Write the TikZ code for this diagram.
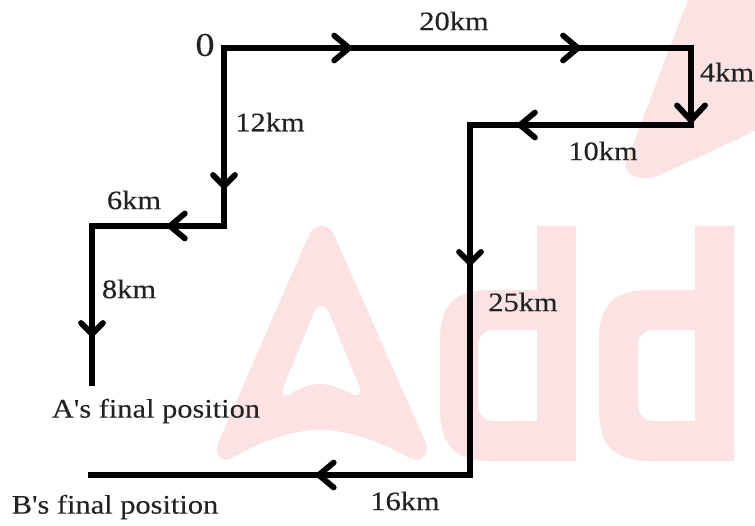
\documentclass[tikz,border=0pt]{standalone}
\usepackage{fontspec}
\newfontfamily\labfont[FakeStretch=1.14,FakeBold=0.25]{Liberation Serif}
\usetikzlibrary{decorations.markings}
\definecolor{wm}{HTML}{FBE3E4}
\definecolor{ink}{HTML}{222222}
\tikzset{
  x=0.75pt,y=-0.75pt,
  lab/.style={text=ink,font=\labfont\fontsize{20}{22}\selectfont,inner sep=0pt},
  wmark/.style={fill=wm,draw=none,even odd rule},
  route/.style={line width=3.8pt,line cap=rect,draw=black},
  chevh/.style={postaction={decorate,decoration={markings,mark=at position #1 with {
    \draw[line width=4.3pt,line cap=round,line join=round,black] (-15,-12.5) -- (0,0) -- (-15,12.5);}}}},
  chevv/.style={postaction={decorate,decoration={markings,mark=at position #1 with {
    \draw[line width=4.3pt,line cap=round,line join=round,black] (-11,-11) -- (0,0) -- (-11,11);}}}},
  chevl/.style={postaction={decorate,decoration={markings,mark=at position #1 with {
    \draw[line width=4.3pt,line cap=round,line join=round,black] (-15,-14) -- (0,0) -- (-15,14);}}}},
}
\begin{document}
\begin{tikzpicture}
\useasboundingbox (0,0) rectangle (755,525);
% watermark
\fill[wmark] (308,237) .. controls (314,222) and (329,222) .. (335,237) -- (426,443)
  .. controls (430,454) and (420,464) .. (410,458) .. controls (380,442) and (350,430) .. (320,430)
  .. controls (290,430) and (260,442) .. (232,458) .. controls (220,464) and (213,453) .. (219,441) -- cycle
  (315,310) .. controls (318,305) and (325,305) .. (328,310) -- (360,388)
  .. controls (361,393) and (358,397) .. (354,395) .. controls (342,389) and (331,384) .. (320,384)
  .. controls (309,384) and (298,389) .. (288,395) .. controls (284,397) and (281,393) .. (283,388) -- cycle;
\fill[wmark] (537,226) -- (576,226) -- (576,461) -- (490,461) .. controls (455,461) and (440,445) .. (440,410)
  -- (440,340) .. controls (440,305) and (455,290) .. (490,290) -- (537,290) -- cycle
  (537,330) -- (495,330) .. controls (484,330) and (478,336) .. (478,347) -- (478,404)
  .. controls (478,415) and (484,421) .. (495,421) -- (537,421) -- cycle;
\fill[wmark] (695,226) -- (734,226) -- (734,461) -- (649,461) .. controls (614,461) and (599,445) .. (599,410)
  -- (599,340) .. controls (599,305) and (614,290) .. (649,290) -- (695,290) -- cycle
  (695,330) -- (655,330) .. controls (644,330) and (638,336) .. (638,347) -- (638,404)
  .. controls (638,415) and (644,421) .. (655,421) -- (695,421) -- cycle;
\fill[wmark] (688,0) -- (755,0) -- (755,131) -- (658,176) .. controls (642,182) and (620,176) .. (627,160) -- cycle;
% route points
\coordinate (o) at (224,48);
\coordinate (a1) at (224,226);
\coordinate (a2) at (92,226);
\coordinate (a3) at (92,386);
\coordinate (b1) at (691,48);
\coordinate (b2) at (691,125);
\coordinate (b3) at (470,125);
\coordinate (b4) at (470,475);
\coordinate (b5) at (88,475);
% routes
\draw[route,line cap=butt,chevv=0.775] (o) -- (a1);
\draw[route,chevh=0.41] (a1) -- (a2);
\draw[route,line cap=butt,chevv=0.675] (a2) -- (a3);
\draw[route,chevh=0.268,chevh=0.758] (o) -- (b1);
\draw[route,chevl=0.94] (b1) -- (b2);
\draw[route,chevh=0.774] (b2) -- (b3);
\draw[route,chevv=0.394] (b3) -- (b4);
\draw[route,line cap=butt,chevh=0.396] (b4) -- (b5);
% labels
\node[lab,font=\labfont\fontsize{25}{27}\selectfont] (n0) at (205,45) {0};
\node[lab] (n20) at (454,21) {20km};
\node[lab] (n4) at (727,72) {4km};
\node[lab] (n12) at (270,122) {12km};
\node[lab] (n10) at (603,151) {10km};
\node[lab] (n6) at (134,200) {6km};
\node[lab] (n8) at (129,289) {8km};
\node[lab] (n25) at (523,302) {25km};
\node[lab] (na) at (156,411) {A's final position};
\node[lab] (n16) at (405,501) {16km};
\node[lab] (nb) at (115,507) {B's final position};
\end{tikzpicture}
\end{document}
